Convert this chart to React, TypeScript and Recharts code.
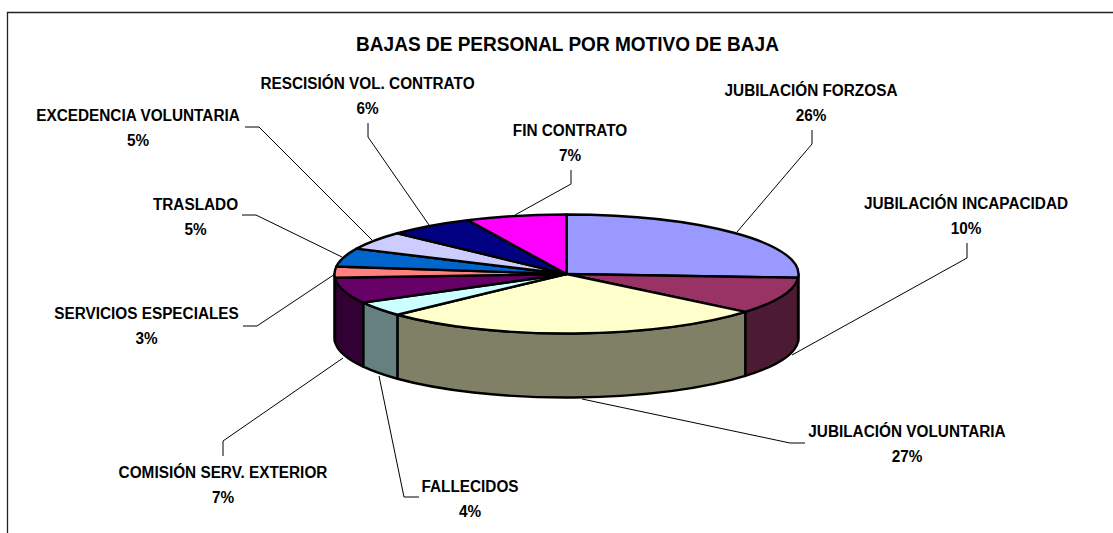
import React from 'react';
import { PieChart, Pie } from 'recharts';

const CATEGORIES = [
  'JUBILACIÓN FORZOSA',
  'JUBILACIÓN INCAPACIDAD',
  'JUBILACIÓN VOLUNTARIA',
  'FALLECIDOS',
  'COMISIÓN SERV. EXTERIOR',
  'SERVICIOS ESPECIALES',
  'TRASLADO',
  'EXCEDENCIA VOLUNTARIA',
  'RESCISIÓN VOL. CONTRATO',
  'FIN CONTRATO',
];
const VALUES = [26, 10, 27, 4, 7, 3, 5, 5, 6, 7];
const COLORS = ['#9999FF', '#993366', '#FFFFCC', '#CCFFFF', '#660066', '#FF8080', '#0066CC', '#CCCCFF', '#000080', '#FF00FF'];

const TITLE = 'BAJAS DE PERSONAL POR MOTIVO DE BAJA';

// Hand-placed label layout, as in the original: text centre x, first-line y, then leader polyline
const LABEL_X = [811, 966, 907, 470, 223, 146.5, 195.5, 138, 367.5, 570];
const LABEL_Y = [90, 203, 431, 486, 472, 313, 204, 115, 83, 130];
const LEADERS = [
  '737,232 812,144 812,130',
  '792,355 967,258 967,243',
  '582,399 790,443 805,443',
  '379,376 404,497 419,497',
  '343,358 223,441 223,456',
  '335,274 257,326 243,326',
  '342,257 256,215 242,215',
  '372,240 259,127 245,127',
  '429,225 368,137 368,123',
  '515,215 571,184 571,170',
];

const CX = 566.5;
const CY = 274;
const RX = 232;
const SQUASH = 59.5 / 232;
const DEPTH = 64;
const FONT = '"Liberation Sans", Arial, sans-serif';
const LABEL_SIZE = 16.6;
const LABEL_SQUEEZE = 0.925;
const TITLE_SIZE = 20.6;
const TITLE_SQUEEZE = 0.925;

const tableData = CATEGORIES.map((name, i) => ({ name, value: VALUES[i], fill: COLORS[i] }));

const halfShade = (hex: string) => {
  const n = parseInt(hex.slice(1), 16);
  const c = [(n >> 16) & 255, (n >> 8) & 255, n & 255].map((v) => Math.round(v / 2));
  return `rgb(${c[0]},${c[1]},${c[2]})`;
};

const rim = (cx: number, cy: number, rx: number, deg: number) => {
  const a = (deg * Math.PI) / 180;
  return { x: cx + rx * Math.cos(a), y: cy - rx * SQUASH * Math.sin(a) };
};

const TopFace = (props: any) => {
  const { cx, cy, outerRadius: rx, startAngle, endAngle, fill } = props;
  const ry = rx * SQUASH;
  const p = rim(cx, cy, rx, startAngle);
  const q = rim(cx, cy, rx, endAngle);
  const large = Math.abs(startAngle - endAngle) > 180 ? 1 : 0;
  return (
    <path
      d={`M${cx},${cy}L${p.x},${p.y}A${rx},${ry} 0 ${large} 1 ${q.x},${q.y}Z`}
      fill={fill}
      stroke="#000"
      strokeWidth={2.4}
      strokeLinejoin="round"
    />
  );
};

const SideWall = (props: any) => {
  const { cx, cy, outerRadius: rx, startAngle, endAngle, fill } = props;
  const s = Math.min(startAngle, 0);
  const e = Math.max(endAngle, -180);
  if (s <= e) return <g />;
  const ry = rx * SQUASH;
  const p = rim(cx, cy, rx, s);
  const q = rim(cx, cy, rx, e);
  return (
    <path
      d={`M${p.x},${p.y}A${rx},${ry} 0 0 1 ${q.x},${q.y}L${q.x},${q.y + DEPTH}A${rx},${ry} 0 0 0 ${p.x},${p.y + DEPTH}Z`}
      fill={halfShade(fill)}
      stroke="#000"
      strokeWidth={2.4}
      strokeLinejoin="round"
    />
  );
};

const SqueezedText = ({ x, y, size, squeeze, children }: any) => (
  <text
    transform={`translate(${x},${y}) scale(${squeeze},1)`}
    textAnchor="middle"
    fontFamily={FONT}
    fontWeight={700}
    fontSize={size}
    fill="#000"
  >
    {children}
  </text>
);

const renderLabel = (props: any) => {
  const i = props.index;
  return (
    <g key={i}>
      <polyline points={LEADERS[i]} fill="none" stroke="#000" strokeWidth={1} />
      <SqueezedText x={LABEL_X[i]} y={LABEL_Y[i] + 6} size={LABEL_SIZE} squeeze={LABEL_SQUEEZE}>
        {CATEGORIES[i]}
      </SqueezedText>
      <SqueezedText x={LABEL_X[i]} y={LABEL_Y[i] + 30.6} size={LABEL_SIZE} squeeze={LABEL_SQUEEZE}>
        {`${VALUES[i]}%`}
      </SqueezedText>
    </g>
  );
};

export default function App() {
  return (
    <div style={{ position: 'absolute', left: 0, top: 0, width: 1113, height: 533, background: '#fff' }}>
      <PieChart width={1113} height={533} margin={{ top: 0, right: 0, bottom: 0, left: 0 }}>
        <path d="M7.5,533V12.5H1113" fill="none" stroke="#222" strokeWidth={1.3} />
        <SqueezedText x={567.5} y={50.5} size={TITLE_SIZE} squeeze={TITLE_SQUEEZE}>
          {TITLE}
        </SqueezedText>
        <Pie
          data={tableData}
          dataKey="value"
          nameKey="name"
          cx={CX}
          cy={CY}
          innerRadius={0}
          outerRadius={RX}
          startAngle={90}
          endAngle={-270}
          shape={SideWall}
          label={renderLabel}
          labelLine={false}
          isAnimationActive={false}
        />
        <Pie
          data={tableData}
          dataKey="value"
          nameKey="name"
          cx={CX}
          cy={CY}
          innerRadius={0}
          outerRadius={RX}
          startAngle={90}
          endAngle={-270}
          shape={TopFace}
          label={false}
          labelLine={false}
          isAnimationActive={false}
        />
      </PieChart>
    </div>
  );
}
